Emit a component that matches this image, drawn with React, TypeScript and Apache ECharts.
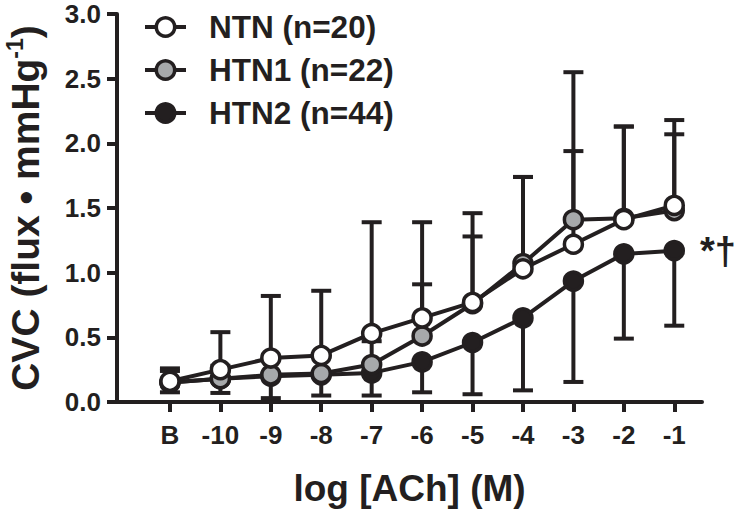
import React, { useEffect, useRef } from "react";
import * as echarts from "echarts";

const categories = ["B", "-10", "-9", "-8", "-7", "-6", "-5", "-4", "-3", "-2", "-1"];
const positions = [0, 1, 2, 3, 4, 5, 6, 7, 8, 9, 10];

const ntnMean = [0.16, 0.25, 0.34, 0.36, 0.53, 0.65, 0.77, 1.03, 1.22, 1.41, 1.52];
const ntnSD = [0.1, 0.29, 0.48, 0.5, 0.86, 0.74, 0.69, 0.71, 0.72, 0.72, 0.66];

const htn1Mean = [0.15, 0.18, 0.21, 0.22, 0.29, 0.51, 0.76, 1.07, 1.41, 1.42, 1.48];
const htn1SD = [0.09, 0.1, 0.12, 0.13, 0.18, 0.4, 0.52, 0.67, 1.14, 0.71, 0.59];

const htn2Mean = [0.15, 0.18, 0.2, 0.21, 0.225, 0.31, 0.46, 0.65, 0.935, 1.145, 1.17];
const htn2SD = [0.075, 0.11, 0.17, 0.16, 0.175, 0.235, 0.4, 0.56, 0.78, 0.655, 0.58];

const seriesNames = ["NTN (n=20)", "HTN1 (n=22)", "HTN2 (n=44)"];
const yTicks = [0, 0.5, 1, 1.5, 2, 2.5, 3];

const INK = "#231f20";
const GRAY = "#a7a9ab";
const FONT = '"Liberation Sans", Arial, Helvetica, sans-serif';

function errorSeries(name: string, mean: number[], sd: number[], dir: number, z: number) {
  const data = mean.map((m, i) => [positions[i], m, dir > 0 ? m + sd[i] : m - sd[i]]);
  return {
    type: "custom",
    name: name + " SD",
    z,
    silent: true,
    data,
    encode: { x: 0, y: [1, 2] },
    renderItem: (params: any, api: any) => {
      const x = api.value(0);
      const p1 = api.coord([x, api.value(1)]);
      const p2 = api.coord([x, api.value(2)]);
      const half = 10;
      return {
        type: "group",
        children: [
          {
            type: "line",
            shape: { x1: p1[0], y1: p1[1], x2: p2[0], y2: p2[1] },
            style: { stroke: INK, lineWidth: 4 },
          },
          {
            type: "line",
            shape: { x1: p2[0] - half, y1: p2[1], x2: p2[0] + half, y2: p2[1] },
            style: { stroke: INK, lineWidth: 4 },
          },
        ],
      };
    },
  };
}

function lineSeries(name: string, mean: number[], fill: string, z: number, lastLabel?: string) {
  return {
    type: "line",
    name,
    z,
    data: mean.map((m, i) => {
      const item: any = { value: [positions[i], m] };
      if (lastLabel && i === mean.length - 1) {
        item.label = {
          show: true,
          position: "right",
          distance: 15,
          formatter: lastLabel,
          fontSize: 38,
          fontWeight: "bold",
          fontFamily: FONT,
          color: INK,
        };
      }
      return item;
    }),
    symbol: "circle",
    symbolSize: 18,
    showSymbol: true,
    lineStyle: { color: INK, width: 4 },
    itemStyle: { color: fill, borderColor: INK, borderWidth: 3.5 },
    emphasis: { disabled: true },
  };
}

export default function App() {
  const ref = useRef<HTMLDivElement>(null);
  useEffect(() => {
    if (!ref.current) return;
    const chart = echarts.init(ref.current, null, { renderer: "svg" });
    const option: any = {
      animation: false,
      backgroundColor: "#ffffff",
      textStyle: { fontFamily: FONT },
      grid: { left: 117, right: 35, top: 14, bottom: 111, containLabel: false, outerBoundsMode: "none" },
      legend: {
        data: seriesNames,
        orient: "vertical",
        left: 138,
        top: 6,
        itemWidth: 41,
        itemHeight: 23,
        itemGap: 11,
        selectedMode: false,
        lineStyle: { width: 4, color: INK },
        itemStyle: { borderWidth: 3.5, borderColor: INK },
        textStyle: {
          fontSize: 31.5,
          fontWeight: "bold",
          color: INK,
          fontFamily: FONT,
          padding: [0, 0, 0, 18],
        },
      },
      xAxis: {
        type: "value",
        min: -1.05,
        max: 10.55,
        name: "log [ACh] (M)",
        nameLocation: "middle",
        nameGap: 68,
        nameTextStyle: { fontSize: 37, fontWeight: "bold", color: INK, fontFamily: FONT },
        axisLine: { show: true, onZero: false, lineStyle: { color: INK, width: 4 } },
        axisTick: { show: true, customValues: positions, length: 10, lineStyle: { color: INK, width: 4 } },
        axisLabel: {
          customValues: positions,
          formatter: (v: number) => categories[Math.round(v)] ?? "",
          fontSize: 26,
          fontWeight: "bold",
          color: INK,
          fontFamily: FONT,
          margin: 20,
        },
        splitLine: { show: false },
      },
      yAxis: {
        type: "value",
        min: 0,
        max: 3,
        interval: 0.5,
        name: "{a|CVC (flux • mmHg}{s|-1}{a|)}",
        nameLocation: "middle",
        nameRotate: 90,
        nameGap: 70,
        nameTextStyle: {
          fontSize: 39,
          fontWeight: "bold",
          color: INK,
          fontFamily: FONT,
          rich: {
            a: { fontSize: 39, fontWeight: "bold", color: INK, fontFamily: FONT, lineHeight: 44 },
            s: { fontSize: 23, fontWeight: "bold", color: INK, fontFamily: FONT, lineHeight: 23, verticalAlign: "top" },
          },
        },
        axisLine: { show: true, onZero: false, lineStyle: { color: INK, width: 4 } },
        axisTick: { show: true, length: 10, lineStyle: { color: INK, width: 4 } },
        axisLabel: {
          formatter: (v: number) => v.toFixed(1),
          customValues: yTicks,
          fontSize: 26,
          fontWeight: "bold",
          color: INK,
          fontFamily: FONT,
          margin: 16,
        },
        splitLine: { show: false },
      },
      series: [
        errorSeries("NTN", ntnMean, ntnSD, 1, 1),
        errorSeries("HTN1", htn1Mean, htn1SD, 1, 1),
        errorSeries("HTN2", htn2Mean, htn2SD, -1, 1),
        lineSeries(seriesNames[2], htn2Mean, INK, 3, "*†"),
        lineSeries(seriesNames[1], htn1Mean, GRAY, 4),
        lineSeries(seriesNames[0], ntnMean, "#ffffff", 5),
      ],
    };
    chart.setOption(option);
    return () => chart.dispose();
  }, []);
  return (
    <div
      ref={ref}
      style={{ position: "fixed", left: 0, top: 0, width: 737, height: 513, background: "#fff" }}
    />
  );
}
